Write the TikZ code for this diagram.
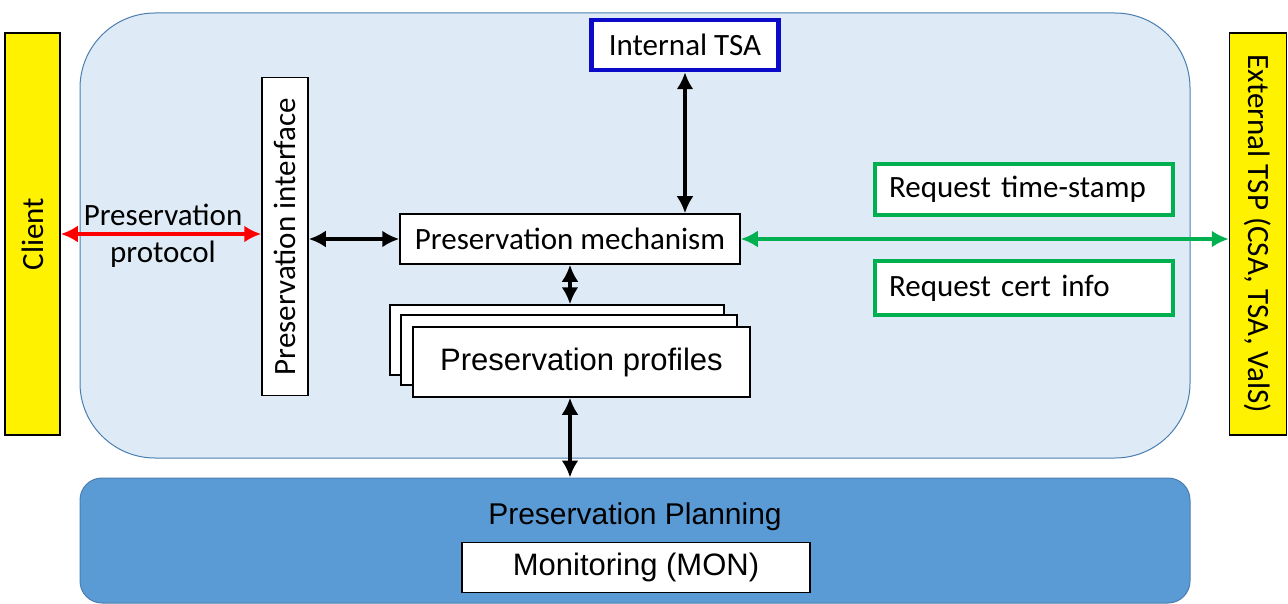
\documentclass[tikz,border=0pt]{standalone}
\usepackage{fontspec}
\setmainfont{Carlito}
\newfontfamily\arialfont{Liberation Sans}
\usetikzlibrary{arrows.meta}

\definecolor{paleblue}{HTML}{DEEBF7}
\definecolor{rimblue}{HTML}{4A7EB0}
\definecolor{planblue}{HTML}{5B9BD5}
\definecolor{tsablue}{HTML}{0A0AC8}
\definecolor{reqgreen}{HTML}{00B050}

\tikzset{
  txt/.style={font=\fontsize{31}{37}\selectfont},
  box/.style={txt, draw, fill=white, line width=1.5pt, inner sep=0pt},
  side/.style={txt, draw, fill=yellow, line width=1.5pt, inner sep=0pt},
  greenbox/.style={box, draw=reqgreen, line width=4.5pt, inner xsep=14pt, text width=270pt},
  arw/.style={{Latex[length=17pt,width=17pt]}-{Latex[length=17pt,width=17pt]}, line width=3.5pt}
}

\begin{document}
\begin{tikzpicture}[x=1pt,y=-1pt]
    \useasboundingbox[fill=white] (0,0) rectangle (1288,604);
    % containers
    \node[draw=rimblue, fill=paleblue, line width=1pt, rounded corners=75pt,
          minimum width=1110pt, minimum height=445pt] at (635,235.5) (core) {};
    \node[draw=rimblue, fill=planblue, line width=1pt, rounded corners=22pt,
          minimum width=1110pt, minimum height=125pt] at (635,540.5) (plan) {};
    \node[txt, font=\arialfont\fontsize{30}{36}\selectfont] at (635,517) (plant) {Preservation Planning};
    \node[box, font=\arialfont\fontsize{31}{37}\selectfont, minimum width=348pt, minimum height=50pt] at (636,567.5) (mon) {Monitoring (MON)};
    % outside parties
    \node[side, rotate=90, minimum width=402pt, minimum height=55pt] at (32.5,234) (cl) {Client};
    \node[side, rotate=-90, minimum width=402pt, minimum height=57pt] at (1258,234) (ext) {External TSP (CSA, TSA, ValS)};
    % inner boxes
    \node[box, draw=tsablue, line width=4.5pt, minimum width=187pt, minimum height=50pt] at (685,45) (tsa) {Internal TSA};
    \node[box, rotate=90, minimum width=318pt, minimum height=46pt] at (285,236.5) (pi) {Preservation interface};
    \node[box, minimum width=340pt, minimum height=50pt] at (570,239) (pm) {Preservation mechanism};
    \node[box, minimum width=334pt, minimum height=70pt] at (557,340) (pp3) {};
    \node[box, minimum width=336pt, minimum height=70pt] at (569,350) (pp2) {};
    \node[box, font=\arialfont\fontsize{31}{37}\selectfont, minimum width=337pt, minimum height=70pt] at (581.5,362) (pp1) {Preservation profiles};
    \node[greenbox, minimum height=51pt] at (1024,189.5) (rts) {Request time-stamp};
    \node[greenbox, minimum height=54pt] at (1024,288) (rci) {Request cert info};
    \node[txt, align=center] at (163,236) (pro) {Preservation\\protocol};
    % connectors
    \path
    (tsa.south) edge [arw] (tsa.south |- pm.north)
    (pi.south |- pm.west) edge [arw] (pm.west)
    (pm.south) edge [arw] (pm.south |- pp3.north)
    (pm.south |- pp1.south) edge [arw] (pm.south |- plan.north)
    (cl.south) edge [arw, red, line width=4.5pt] (cl.south -| pi.north)
    (pm.east) edge [arw, reqgreen] (pm.east -| ext.south);
\end{tikzpicture}
\end{document}
